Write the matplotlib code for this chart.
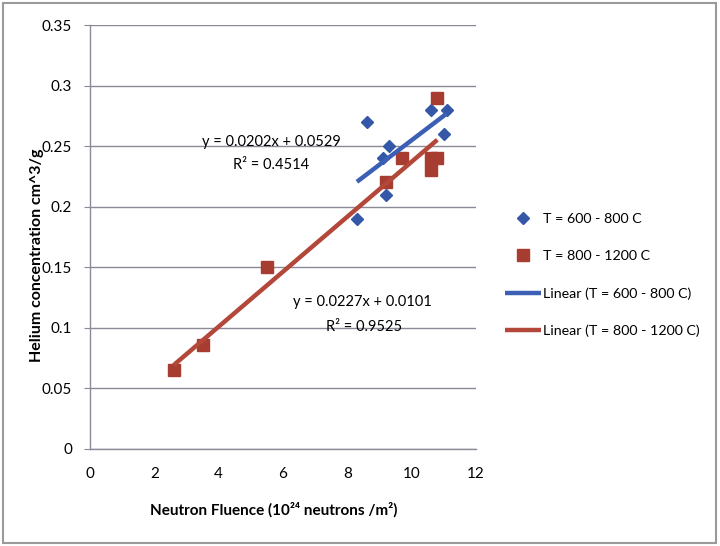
import matplotlib
matplotlib.use("Agg")
import matplotlib.pyplot as plt
from matplotlib.patches import Rectangle
import numpy as np

plt.rcParams["font.family"] = ["Lato", "DejaVu Sans"]

# T = 600 - 800 C
fluence_low = [8.6, 10.6, 11.1, 11.0, 9.3, 9.1, 9.2, 8.3]
helium_low = [0.27, 0.28, 0.28, 0.26, 0.25, 0.24, 0.21, 0.19]

# T = 800 - 1200 C
fluence_high = [2.6, 3.5, 5.5, 9.2, 9.7, 10.6, 10.8, 10.6, 10.8]
helium_high = [0.065, 0.086, 0.15, 0.22, 0.24, 0.24, 0.24, 0.23, 0.29]

# trendline coefficients as printed on the chart
fit_low = (0.0202, 0.0529, 0.4514)
fit_high = (0.0227, 0.0101, 0.9525)

x_ticks = [0, 2, 4, 6, 8, 10, 12]
y_ticks = [0, 0.05, 0.1, 0.15, 0.2, 0.25, 0.3, 0.35]
y_tick_labels = ["0", "0.05", "0.1", "0.15", "0.2", "0.25", "0.3", "0.35"]

blue_mk = "#3457A8"
red_mk = "#A63D30"
blue_ln = "#3C5FB6"
red_ln = "#B3473A"


def trend(xs, fit):
    xx = np.array([min(xs), max(xs)])
    return xx, fit[0] * xx + fit[1]


fig = plt.figure(figsize=(7.2, 5.46), dpi=100)
ax = fig.add_axes([0.125, 0.178, 0.536, 0.776])

ax.plot(fluence_low, helium_low, linestyle="none", marker="D", markersize=6.5,
        color=blue_mk, label="T = 600 - 800 C", zorder=3)
ax.plot(fluence_high, helium_high, linestyle="none", marker="s", markersize=9,
        color=red_mk, label="T = 800 - 1200 C", zorder=3)

xl, yl = trend(fluence_low, fit_low)
ax.plot(xl, yl, color=blue_ln, linewidth=3.2, solid_capstyle="butt",
        label="Linear (T = 600 - 800 C)", zorder=4)
xh, yh = trend(fluence_high, fit_high)
ax.plot(xh, yh, color=red_ln, linewidth=3.2, solid_capstyle="butt",
        label="Linear (T = 800 - 1200 C)", zorder=4)

fs = 10.5
ax.text(5.64, 0.2537, f"y = {fit_low[0]:.4f}x + {fit_low[1]:.4f}",
        ha="center", va="center", fontsize=fs)
ax.text(5.64, 0.2347, f"R² = {fit_low[2]:.4f}",
        ha="center", va="center", fontsize=fs)
ax.text(8.47, 0.1213, f"y = {fit_high[0]:.4f}x + {fit_high[1]:.4f}",
        ha="center", va="center", fontsize=fs)
ax.text(8.51, 0.1009, f"R² = {fit_high[2]:.4f}",
        ha="center", va="center", fontsize=fs)

ax.set_xlim(0, 12)
ax.set_ylim(0, 0.35)
ax.set_xticks(x_ticks)
ax.set_yticks(y_ticks)
ax.set_yticklabels(y_tick_labels)
ax.tick_params(axis="x", length=0, pad=13, labelsize=11)
ax.tick_params(axis="y", length=4, pad=9, labelsize=11, color="#8a8a9a")
ax.grid(axis="y", color="#8a8a96", linewidth=1.0)
ax.set_axisbelow(True)
for side in ["top", "right"]:
    ax.spines[side].set_visible(False)
for side in ["left", "bottom"]:
    ax.spines[side].set_color("#8a8a9a")
    ax.spines[side].set_linewidth(1.0)

ax.set_ylabel("Helium concentration cm^3/g", fontsize=11.5, fontweight="bold")
ax.yaxis.set_label_coords(-0.12, 0.458)
ax.set_xlabel("Neutron Fluence (10²⁴ neutrons /m²)", fontsize=11, fontweight="bold")
ax.xaxis.set_label_coords(0.477, -0.127)

fig.legend(loc="upper left", bbox_to_anchor=(0.684, 0.633), frameon=False,
           fontsize=10.3, handlelength=2.5, handletextpad=0.15, labelspacing=1.75)

fig.patches.append(Rectangle((0.004, 0.006), 0.99, 0.989, transform=fig.transFigure,
                             fill=False, edgecolor="#9a9a9a", linewidth=1.5))

fig.savefig("out.png", dpi=100)
